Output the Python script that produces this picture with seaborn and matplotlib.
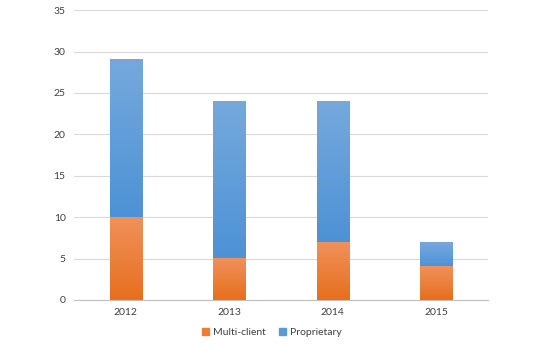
import matplotlib
matplotlib.use("Agg")
import matplotlib.pyplot as plt
import seaborn as sns
import pandas as pd
import numpy as np
from matplotlib.patches import Patch
from matplotlib.colors import LinearSegmentedColormap

years = ["2012", "2013", "2014", "2015"]
multi_client = [10, 5, 7, 4]
proprietary = [19, 19, 17, 3]
yticks = [0, 5, 10, 15, 20, 25, 30, 35]

sns.set_style("white")
plt.rcParams['font.family'] = ['Lato', 'DejaVu Sans']

totals = [m + p for m, p in zip(multi_client, proprietary)]
df = pd.DataFrame({"year": years, "multi": multi_client, "total": totals})

fig = plt.figure(figsize=(5.44, 3.48), dpi=100)
ax = fig.add_axes([0.136, 0.138, 0.761, 0.833])

blue = "#5B9BD5"
orange = "#ED7D31"
sns.barplot(data=df, x="year", y="total", color=blue, width=0.31, ax=ax, saturation=1, linewidth=0)
sns.barplot(data=df, x="year", y="multi", color=orange, width=0.31, ax=ax, saturation=1, linewidth=0)

# vertical gradient fill, Excel style
cm_blue = LinearSegmentedColormap.from_list("b", ["#4D92D6", "#75A9DD"])
cm_orange = LinearSegmentedColormap.from_list("o", ["#E66F1E", "#F1915A"])
grad = np.linspace(0, 1, 256).reshape(-1, 1)
patches = list(ax.patches)
n = len(years)
for i, p in enumerate(patches):
    x, w = p.get_x(), p.get_width()
    if i < n:
        y0 = patches[i + n].get_height()
        y1 = p.get_height()
        cm = cm_blue
    else:
        y0, y1 = 0, p.get_height()
        cm = cm_orange
    ax.imshow(grad, extent=[x, x + w, y0, y1], origin="lower", aspect="auto",
              cmap=cm, zorder=2.5, interpolation="bilinear")

ax.set_ylim(0, 35)
ax.set_yticks(yticks)
ax.set_xlim(-0.5, 3.5)
ax.set_xlabel("")
ax.set_ylabel("")
ax.yaxis.grid(True, color="#D9D9D9", linewidth=0.8)
ax.set_axisbelow(True)
for s in ["left", "right", "top"]:
    ax.spines[s].set_visible(False)
ax.spines["bottom"].set_color("#BFBFBF")
ax.spines["bottom"].set_linewidth(0.8)
ax.spines["bottom"].set_zorder(3)
ax.tick_params(axis="both", length=0, labelsize=7.5, colors="#404040", pad=6)

handles = [Patch(color=orange, label="Multi-client"), Patch(color=blue, label="Proprietary")]
fig.legend(handles=handles, loc="center", bbox_to_anchor=(0.5, 0.045), ncol=2, frameon=False,
           fontsize=7.5, handlelength=0.7, handleheight=0.7, handletextpad=0.4, columnspacing=1.2,
           labelcolor="#404040")

fig.savefig("out.png", dpi=100)
